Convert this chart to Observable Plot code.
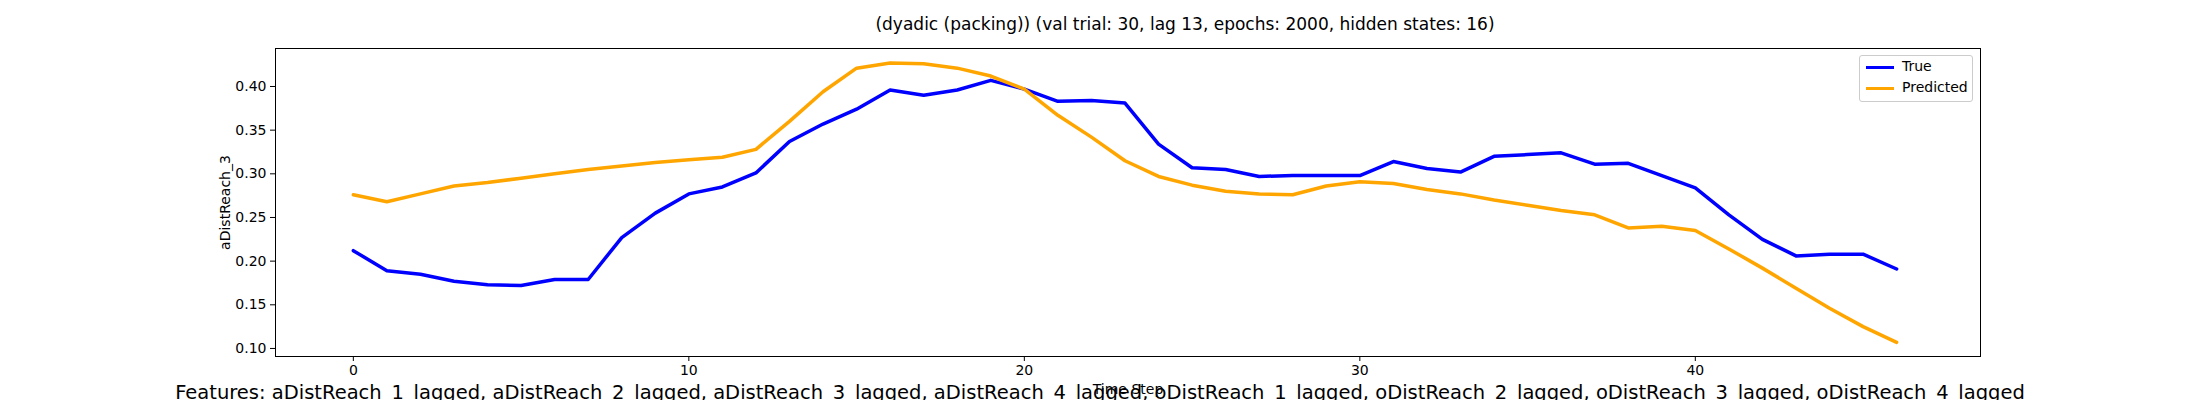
<!DOCTYPE html>
<html><head><meta charset="utf-8">
<script src="https://cdn.jsdelivr.net/npm/d3@7"></script>
<script src="https://cdn.jsdelivr.net/npm/@observablehq/plot@0.6"></script>
<style>
body{margin:0;background:#fff;font-family:"DejaVu Sans",sans-serif;}
#wrap{position:relative;width:2200px;height:400px;overflow:hidden;}
#title{height:48px;line-height:48px;text-align:center;font-size:17px;padding-left:170px;box-sizing:border-box;}
#caption{position:absolute;top:381px;left:0;width:2200px;text-align:center;font-size:19.5px;white-space:nowrap;}
#legend{position:absolute;left:1859px;top:55px;width:112px;height:45px;border:1px solid #ccc;border-radius:3px;background:#fff;font-size:14px;}
#legend div{height:21px;line-height:21px;padding-left:6px;}
#legend span{display:inline-block;width:28px;height:3px;vertical-align:middle;margin-right:8px;}
</style></head>
<body><div id="wrap"><div id="title"></div><div id="chart"></div><div id="caption"></div>
<div id="legend"><div><span style="background:blue"></span>True</div><div><span style="background:orange"></span>Predicted</div></div></div>
<script>
var titleText = "(dyadic (packing)) (val trial: 30, lag 13, epochs: 2000, hidden states: 16)";
var captionText = "Features: aDistReach_1_lagged, aDistReach_2_lagged, aDistReach_3_lagged, aDistReach_4_lagged, oDistReach_1_lagged, oDistReach_2_lagged, oDistReach_3_lagged, oDistReach_4_lagged";
var trueVals = [0.212,0.189,0.185,0.177,0.173,0.172,0.179,0.179,0.227,0.255,0.277,0.285,0.301,0.337,0.357,0.374,0.396,0.390,0.396,0.407,
  0.397,0.383,0.384,0.381,0.334,0.307,0.305,0.297,0.298,0.298,0.298,0.314,0.306,0.302,0.320,0.322,0.324,0.311,0.312,0.298,
  0.284,0.253,0.225,0.206,0.208,0.208,0.191];
var predVals = [0.276,0.268,0.277,0.286,0.290,0.295,0.300,0.305,0.309,0.313,0.316,0.319,0.328,0.360,0.394,0.421,0.427,0.426,0.421,0.412,
  0.397,0.367,0.342,0.315,0.297,0.287,0.280,0.277,0.276,0.286,0.291,0.289,0.282,0.277,0.270,0.264,0.258,0.253,0.238,0.240,
  0.235,0.214,0.192,0.169,0.146,0.125,0.107];
var xTicks = [0,10,20,30,40];
var yTicks = [0.10,0.15,0.20,0.25,0.30,0.35,0.40];

document.getElementById("title").textContent = titleText;
document.getElementById("caption").textContent = captionText;

var rows = [];
trueVals.forEach((v,i)=>rows.push({t:i, v:v, s:"True"}));
predVals.forEach((v,i)=>rows.push({t:i, v:v, s:"Predicted"}));

var plot = Plot.plot({
  width: 2200,
  height: 352,
  marginTop: 0,
  marginLeft: 275,
  marginRight: 220,
  marginBottom: 44,
  style: {fontFamily: "DejaVu Sans, sans-serif", fontSize: "14px", color: "#000"},
  x: {domain: [-2.32, 48.5], ticks: xTicks, tickFormat: d3.format("d"), label: "Time Step", labelAnchor: "center", labelArrow: "none", labelOffset: 37, tickSize: 5},
  y: {domain: [0.0908, 0.4435], ticks: yTicks, tickFormat: d3.format(".2f"), label: "aDistReach_3", labelAnchor: "center", labelArrow: "none", labelOffset: 55, tickSize: 5},
  color: {domain: ["True","Predicted"], range: ["blue","orange"]},
  marks: [
    Plot.frame({stroke: "#000"}),
    Plot.line(rows, {x: "t", y: "v", z: "s", stroke: "s", strokeWidth: 3.5})
  ]
});
document.getElementById("chart").appendChild(plot);
</script></body></html>
